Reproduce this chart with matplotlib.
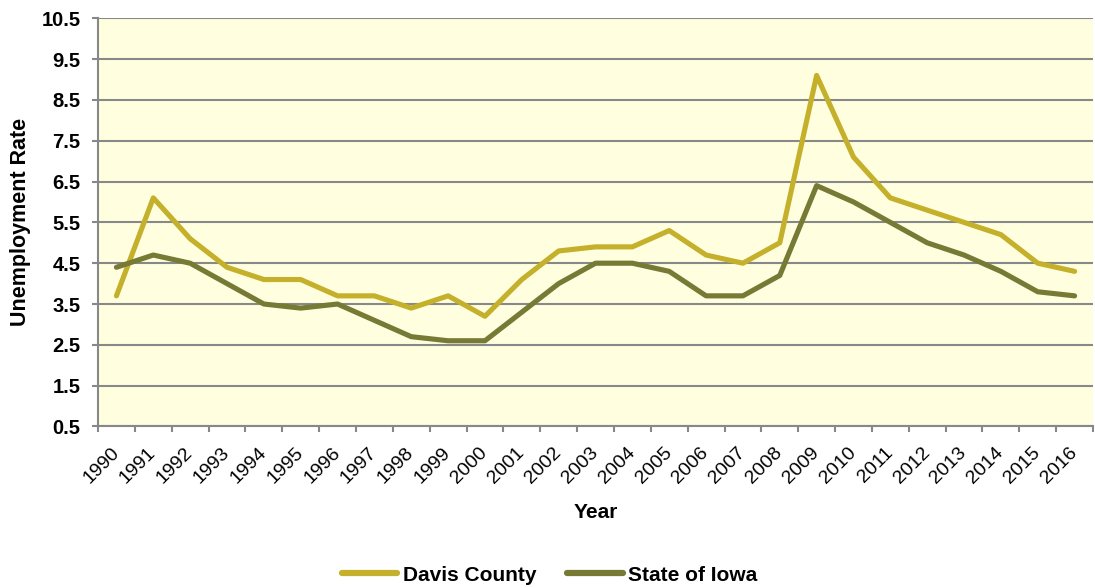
import matplotlib
matplotlib.use("Agg")
import matplotlib.pyplot as plt
import matplotlib.transforms as mtransforms
import numpy as np

plt.rcParams['font.family'] = ['Liberation Sans', 'DejaVu Sans']

years = [str(y) for y in range(1990, 2017)]
davis = [3.7, 6.1, 5.1, 4.4, 4.1, 4.1, 3.7, 3.7, 3.4, 3.7, 3.2, 4.1, 4.8, 4.9,
         4.9, 5.3, 4.7, 4.5, 5.0, 9.1, 7.1, 6.1, 5.8, 5.5, 5.2, 4.5, 4.3]
iowa = [4.4, 4.7, 4.5, 4.0, 3.5, 3.4, 3.5, 3.1, 2.7, 2.6, 2.6, 3.3, 4.0, 4.5,
        4.5, 4.3, 3.7, 3.7, 4.2, 6.4, 6.0, 5.5, 5.0, 4.7, 4.3, 3.8, 3.7]
y_ticks = [0.5, 1.5, 2.5, 3.5, 4.5, 5.5, 6.5, 7.5, 8.5, 9.5, 10.5]

fig = plt.figure(figsize=(10.95, 5.88), dpi=100)
ax = fig.add_axes([0.0895, 0.2747, 0.9087, 0.6942])
ax.set_facecolor('#FFFFE0')

x = np.arange(len(years))
ax.plot(x, davis, color='#C4B02A', lw=3.7, solid_capstyle='round',
        solid_joinstyle='round', label='Davis County', zorder=3)
ax.plot(x, iowa, color='#767A35', lw=3.7, solid_capstyle='round',
        solid_joinstyle='round', label='State of Iowa', zorder=3)

ax.set_xlim(-0.5, len(years) - 0.5)
ax.set_ylim(0.5, 10.5)
ax.set_yticks(y_ticks)
ax.set_yticklabels([f'{v:.1f}' for v in y_ticks], fontsize=14.5, fontweight='bold')
ax.yaxis.grid(True, color='#888888', lw=1.5)
ax.set_axisbelow(True)

# tick marks between categories, year labels at the centres
ax.set_xticks(np.arange(len(years) + 1) - 0.5)
ax.set_xticklabels([])
ax.set_xticks(x, minor=True)
ax.set_xticklabels(years, minor=True, rotation=45, ha='right', va='center',
                   rotation_mode='anchor', fontsize=14)
shift = mtransforms.ScaledTranslation(2 / 100, 0, fig.dpi_scale_trans)
for lbl in ax.get_xticklabels(minor=True):
    lbl.set_transform(lbl.get_transform() + shift)
ax.tick_params(axis='x', which='minor', length=0, pad=17)
ax.tick_params(axis='x', which='major', length=4.5, color='#888888', width=1.5)
ax.tick_params(axis='y', length=4.5, color='#888888', width=1.5, pad=8)

for side in ['top', 'right']:
    ax.spines[side].set_visible(False)
for side in ['left', 'bottom']:
    ax.spines[side].set_color('#888888')
    ax.spines[side].set_linewidth(1.5)

ax.set_xlabel('Year', fontsize=15, fontweight='bold')
ax.xaxis.set_label_coords(0.5, -0.187)
ax.set_ylabel('Unemployment Rate', fontsize=15.5, fontweight='bold')
ax.yaxis.set_label_coords(-0.0673, 0.5)

leg = ax.legend(loc='center', bbox_to_anchor=(0.502, 0.022), bbox_transform=fig.transFigure,
                ncol=2, frameon=False, prop={'size': 15, 'weight': 'bold'},
                handlelength=2.65, handletextpad=0.25, columnspacing=1.5)
for h in leg.get_lines():
    h.set_linewidth(4.5)

fig.savefig('out.png', dpi=100)
